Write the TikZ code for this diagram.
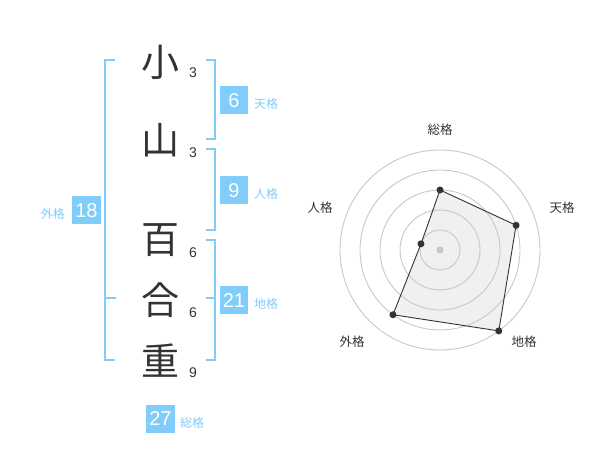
\documentclass[tikz,border=0pt]{standalone}
\usepackage{fontspec}
\setmainfont{Liberation Sans}
\newfontfamily\cjk{Noto Sans CJK JP}
\definecolor{sky}{RGB}{128,204,250}
\definecolor{ink}{RGB}{51,51,51}
\definecolor{ring}{RGB}{200,200,200}
\definecolor{area}{RGB}{240,240,240}
\tikzset{
  bracket/.style={draw=sky, line width=2pt},
  bigchar/.style={font=\cjk\fontsize{38}{38}\selectfont, text=ink, inner sep=0pt},
  strokes/.style={font=\fontsize{14}{14}\selectfont, text=ink, inner sep=0pt},
  valbox/.style={fill=sky, text=white, font=\fontsize{20}{20}\selectfont, minimum width=28.5pt, minimum height=28pt, inner sep=0pt},
  kaku/.style={font=\cjk\fontsize{12}{12}\selectfont, text=sky, inner sep=0pt},
  axislabel/.style={font=\cjk\fontsize{12.5}{12.5}\selectfont, text=ink, inner sep=0pt},
  ringline/.style={draw=ring, line width=0.9pt},
  dot/.style={circle, fill=ink, minimum size=7pt, inner sep=0pt},
}
\begin{document}
\begin{tikzpicture}[x=1pt, y=-1pt]
\useasboundingbox (0,0) rectangle (600,470);
% characters
\node[bigchar] (c1) at (160,62) {小};
\node[bigchar] (c2) at (160,140) {山};
\node[bigchar] (c3) at (160,240) {百};
\node[bigchar] (c4) at (160,300) {合};
\node[bigchar] (c5) at (160,361) {重};
\node[strokes] (s1) at (193,73) {3};
\node[strokes] (s2) at (193,153) {3};
\node[strokes] (s3) at (193,253) {6};
\node[strokes] (s4) at (193,313) {6};
\node[strokes] (s5) at (193,373) {9};
% brackets
\draw[bracket] (115,60) -- (105,60) -- (105,360) -- (115,360);
\draw[bracket] (105,298.3) -- (116,298.3);
\draw[bracket] (206,60) -- (215,60) -- (215,139) -- (206,139);
\draw[bracket] (206,149) -- (215,149) -- (215,230) -- (206,230);
\draw[bracket] (206,240) -- (215,240) -- (215,360) -- (206,360);
\draw[bracket] (206,298.3) -- (215,298.3);
% value boxes
\node[valbox] (ten) at (234,100.5) {6};
\node[valbox] (jin) at (234,190.5) {9};
\node[valbox] (chi) at (234,300.5) {21};
\node[valbox] (gai) at (86.5,210.5) {18};
\node[valbox] (sou) at (160.5,419) {27};
\node[kaku, anchor=west] (tenl) at (254,104) {天格};
\node[kaku, anchor=west] (jinl) at (254,194) {人格};
\node[kaku, anchor=west] (chil) at (254,304) {地格};
\node[kaku, anchor=east] (gail) at (65,214) {外格};
\node[kaku, anchor=west] (soul) at (180,423) {総格};
% radar
\begin{scope}[shift={(440,250)}, x=1pt, y=1pt]
  \coordinate (pS) at (90:60);
  \coordinate (pT) at (18:80);
  \coordinate (pC) at (-54:100);
  \coordinate (pG) at (-126:80);
  \coordinate (pJ) at (162:20);
  \fill[area] (pS) -- (pT) -- (pC) -- (pG) -- (pJ) -- cycle;
  \foreach \r in {20,40,60,80,100} \draw[ringline] (0,0) circle[radius=\r];
  \draw[ink, line width=0.9pt] (pS) -- (pT) -- (pC) -- (pG) -- (pJ) -- cycle;
  \node[circle, fill=ring, minimum size=7pt, inner sep=0pt] (ctr) at (0,0) {};
  \node[dot] (dS) at (pS) {};
  \node[dot] (dT) at (pT) {};
  \node[dot] (dC) at (pC) {};
  \node[dot] (dG) at (pG) {};
  \node[dot] (dJ) at (pJ) {};
  \node[axislabel] (lS) at (0,120) {総格};
  \node[axislabel] (lT) at (122,42) {天格};
  \node[axislabel] (lC) at (84,-92) {地格};
  \node[axislabel] (lG) at (-88,-92) {外格};
  \node[axislabel] (lJ) at (-120,42) {人格};
\end{scope}
\end{tikzpicture}
\end{document}
